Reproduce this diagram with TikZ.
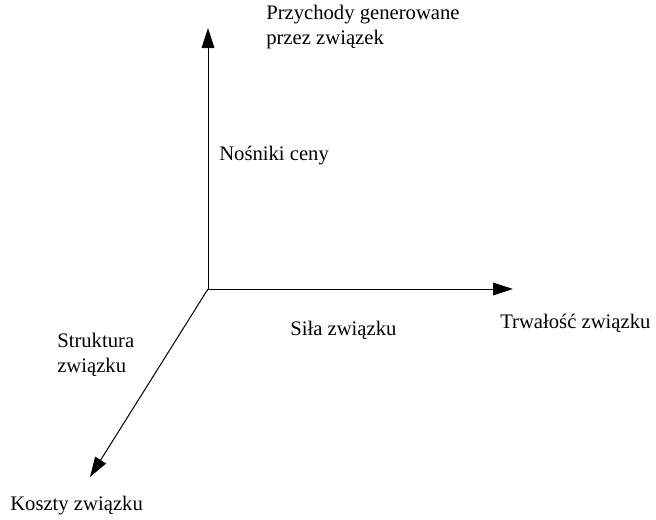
\documentclass[tikz,border=0pt]{standalone}
\usepackage{fontspec}
\setmainfont{Liberation Serif}
\usetikzlibrary{arrows.meta}
\tikzset{
    axis/.style={line width=0.75pt, -{Triangle[length=15pt,width=9.5pt]}},
    axislabel/.style={inner sep=0pt, anchor=west, align=left,
        font=\fontsize{15.5}{19}\selectfont}}

\begin{document}
\begin{tikzpicture}[x={(0.75pt,0)}, y={(0,-0.75pt)}]
    \useasboundingbox (0,0) rectangle (656,519);

    \coordinate (O) at (208,289);
    \coordinate (Up) at (208,28);
    \coordinate (Right) at (513,289);
    \coordinate (Down) at (90,477);

    \draw[axis] (O) -- (Up);
    \draw[axis] (O) -- (Right);
    \draw[axis] (O) -- (Down);

    \node[axislabel] (przychody) at (266,27) {Przychody generowane\\przez związek};
    \node[axislabel] (nosniki) at (219,156) {Nośniki ceny};
    \node[axislabel] (sila) at (290,330) {Siła związku};
    \node[axislabel] (trwalosc) at (500,323) {Trwałość związku};
    \node[axislabel] (struktura) at (57,355) {Struktura\\związku};
    \node[axislabel] (koszty) at (10,506) {Koszty związku};

\end{tikzpicture}
\end{document}
